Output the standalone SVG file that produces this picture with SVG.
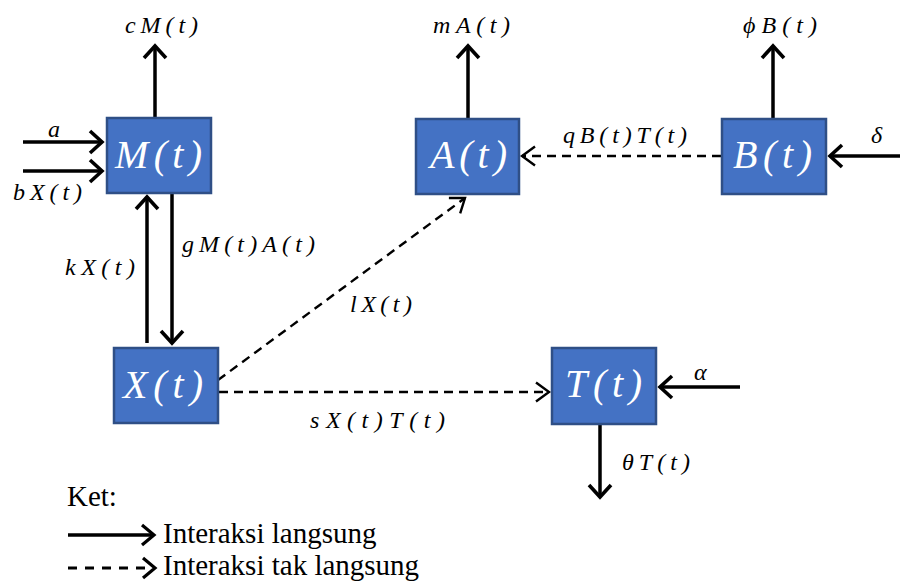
<svg xmlns="http://www.w3.org/2000/svg" width="900" height="588" viewBox="0 0 900 588">
<defs>
<marker id="ah" markerUnits="userSpaceOnUse" markerWidth="30" markerHeight="30" viewBox="-20 -15 30 30" refX="0" refY="0" orient="auto">
<path d="M-12,-11 L0,0 L-12,11" fill="none" stroke="#000" stroke-width="3.6"/>
</marker>
<marker id="ahd" markerUnits="userSpaceOnUse" markerWidth="30" markerHeight="30" viewBox="-20 -15 30 30" refX="0" refY="0" orient="auto">
<path d="M-13,-9.5 L0,0 L-13,9.5" fill="none" stroke="#000" stroke-width="2.4"/>
</marker>
<marker id="ahl" markerUnits="userSpaceOnUse" markerWidth="30" markerHeight="30" viewBox="-20 -15 30 30" refX="0" refY="0" orient="auto">
<path d="M-12,-10 L0,0 L-12,10" fill="none" stroke="#000" stroke-width="3.2"/>
</marker>
</defs>

<g id="connectors" fill="none" stroke="#000">
<g stroke-width="3.5">
<line x1="155" y1="118" x2="155" y2="46" marker-end="url(#ah)"/>
<line x1="468" y1="119" x2="468" y2="46" marker-end="url(#ah)"/>
<line x1="773" y1="119" x2="773" y2="46" marker-end="url(#ah)"/>
<line x1="23" y1="142" x2="102" y2="142" marker-end="url(#ah)"/>
<line x1="23" y1="171" x2="102" y2="171" marker-end="url(#ah)"/>
<line x1="147" y1="343" x2="147" y2="197" marker-end="url(#ah)"/>
<line x1="172" y1="194" x2="172" y2="343" marker-end="url(#ah)"/>
<line x1="900" y1="156" x2="830" y2="156" marker-end="url(#ah)"/>
<line x1="740" y1="387" x2="660" y2="387" marker-end="url(#ah)"/>
<line x1="600" y1="425" x2="600" y2="497" marker-end="url(#ah)"/>
<line x1="68" y1="535" x2="154" y2="535" marker-end="url(#ahl)"/>
</g>
<g stroke-width="2.4" stroke-dasharray="9 6">
<line x1="218" y1="380" x2="465" y2="198" marker-end="url(#ahd)"/>
<line x1="219" y1="392" x2="549" y2="392" marker-end="url(#ahd)"/>
<line x1="721" y1="156" x2="522" y2="156" marker-end="url(#ahd)"/>
</g>
<line x1="68" y1="568" x2="155" y2="568" stroke-width="3" stroke-dasharray="9 8" marker-end="url(#ahl)"/>
</g>

<g id="labels" fill="#000" font-family="Liberation Serif, Times New Roman, serif" font-style="italic" font-size="24">
<text x="125" y="33" textLength="73" lengthAdjust="spacing">cM(t)</text>
<text x="48" y="137">a</text>
<text x="13" y="200" textLength="69" lengthAdjust="spacing">bX(t)</text>
<text x="433" y="33" textLength="77" lengthAdjust="spacing">mA(t)</text>
<text x="743" y="33" textLength="74" lengthAdjust="spacing">ϕB(t)</text>
<text x="563" y="143" textLength="124" lengthAdjust="spacing">qB(t)T(t)</text>
<text x="871" y="143">δ</text>
<text x="65" y="275" textLength="70" lengthAdjust="spacing">kX(t)</text>
<text x="182" y="252" textLength="133" lengthAdjust="spacing">gM(t)A(t)</text>
<text x="350" y="312" textLength="62" lengthAdjust="spacing">lX(t)</text>
<text x="310" y="428" textLength="135" lengthAdjust="spacing">sX(t)T(t)</text>
<text x="694" y="380">α</text>
<text x="622" y="470" textLength="68" lengthAdjust="spacing">θT(t)</text>
</g>

<g font-family="Liberation Serif, Times New Roman, serif" font-style="italic" font-size="40" fill="#fff">
<g id="node-M">
<rect x="107" y="118" width="104" height="75" fill="#4472C4" stroke="#2F4F86" stroke-width="2.5"/>
<text x="115" y="168" textLength="87" lengthAdjust="spacing">M(t)</text>
</g>
<g id="node-A">
<rect x="416" y="119" width="103" height="75" fill="#4472C4" stroke="#2F4F86" stroke-width="2.5"/>
<text x="430" y="168" textLength="77" lengthAdjust="spacing">A(t)</text>
</g>
<g id="node-B">
<rect x="722" y="119" width="104" height="75" fill="#4472C4" stroke="#2F4F86" stroke-width="2.5"/>
<text x="733" y="168" textLength="79" lengthAdjust="spacing">B(t)</text>
</g>
<g id="node-X">
<rect x="114" y="348" width="104" height="75" fill="#4472C4" stroke="#2F4F86" stroke-width="2.5"/>
<text x="123" y="398" textLength="80" lengthAdjust="spacing">X(t)</text>
</g>
<g id="node-T">
<rect x="552" y="348" width="104" height="76" fill="#4472C4" stroke="#2F4F86" stroke-width="2.5"/>
<text x="565" y="397" textLength="77" lengthAdjust="spacing">T(t)</text>
</g>
</g>

<g id="legend" fill="#000" font-family="Liberation Serif, Times New Roman, serif" font-size="29">
<text x="67" y="506">Ket:</text>
<text x="163" y="543">Interaksi langsung</text>
<text x="163" y="575">Interaksi tak langsung</text>
</g>
</svg>
